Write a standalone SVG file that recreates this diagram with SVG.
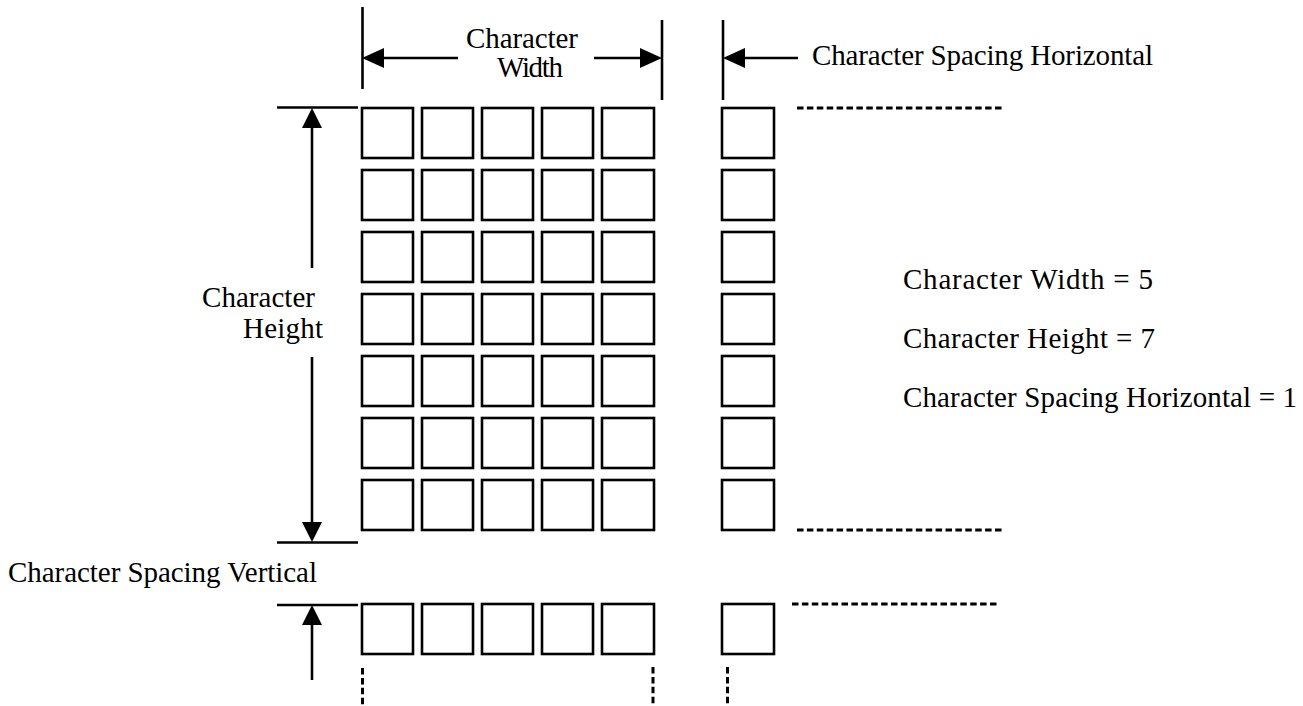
<svg xmlns="http://www.w3.org/2000/svg" width="1303" height="706" viewBox="0 0 1303 706">
<style>
.cell{fill:none;stroke:#000;stroke-width:2.6}
.ln{stroke:#000;stroke-width:2.6;fill:none}
.dash{stroke:#000;stroke-width:3;fill:none;stroke-dasharray:6.5 3.4}
.head{fill:#000;stroke:none}
text{font-family:"Liberation Serif","DejaVu Serif",serif;font-size:29px;fill:#000}
</style>
<defs>
<g id="row">
<rect class="cell" x="362" y="0" width="51" height="50"/>
<rect class="cell" x="422" y="0" width="51" height="50"/>
<rect class="cell" x="482" y="0" width="51" height="50"/>
<rect class="cell" x="542" y="0" width="51" height="50"/>
<rect class="cell" x="602" y="0" width="52" height="50"/>
<rect class="cell" x="722" y="0" width="52" height="50"/>
</g>
</defs>
<g id="grid">
<use href="#row" y="108"/>
<use href="#row" y="170"/>
<use href="#row" y="232"/>
<use href="#row" y="294"/>
<use href="#row" y="356"/>
<use href="#row" y="418"/>
<use href="#row" y="480"/>
<use href="#row" y="604"/>
</g>
<g id="connectors">
<line class="ln" x1="362.5" y1="7" x2="362.5" y2="89"/>
<line class="ln" x1="662" y1="20" x2="662" y2="100"/>
<line class="ln" x1="382" y1="58" x2="458" y2="58"/>
<polygon class="head" points="362,58 384,48 384,68"/>
<line class="ln" x1="594" y1="58" x2="642" y2="58"/>
<polygon class="head" points="662,58 640,48 640,68"/>
<line class="ln" x1="723" y1="20" x2="723" y2="100"/>
<line class="ln" x1="743" y1="58" x2="798" y2="58"/>
<polygon class="head" points="723,58 745,48 745,68"/>
<line class="ln" x1="277" y1="107.5" x2="358" y2="107.5"/>
<line class="ln" x1="277" y1="542.5" x2="358" y2="542.5"/>
<line class="ln" x1="312" y1="126" x2="312" y2="268"/>
<line class="ln" x1="312" y1="357" x2="312" y2="524"/>
<polygon class="head" points="312,108 302,128 322,128"/>
<polygon class="head" points="312,542 302,522 322,522"/>
<line class="ln" x1="277" y1="605" x2="358" y2="605"/>
<line class="ln" x1="312" y1="623" x2="312" y2="680"/>
<polygon class="head" points="312,605 302,625 322,625"/>
<line class="dash" x1="797" y1="108" x2="1003" y2="108"/>
<line class="dash" x1="797" y1="530" x2="1003" y2="530"/>
<line class="dash" x1="792" y1="604" x2="998" y2="604"/>
<line class="dash" x1="362.5" y1="668" x2="362.5" y2="706"/>
<line class="dash" x1="653" y1="667" x2="653" y2="706"/>
<line class="dash" x1="727.5" y1="667" x2="727.5" y2="706"/>
</g>
<g id="labels">
<text x="466" y="48" textLength="112" lengthAdjust="spacing">Character</text>
<text x="497" y="77" textLength="66" lengthAdjust="spacing">Width</text>
<text x="812" y="65" textLength="341" lengthAdjust="spacing">Character Spacing Horizontal</text>
<text x="202" y="307" textLength="113" lengthAdjust="spacing">Character</text>
<text x="243" y="338" textLength="80" lengthAdjust="spacing">Height</text>
<text x="8" y="582" textLength="309" lengthAdjust="spacing">Character Spacing Vertical</text>
<text x="903" y="289" textLength="250" lengthAdjust="spacing">Character Width = 5</text>
<text x="903" y="348" textLength="252" lengthAdjust="spacing">Character Height = 7</text>
<text x="903" y="407" textLength="394" lengthAdjust="spacing">Character Spacing Horizontal = 1</text>
</g>
</svg>
